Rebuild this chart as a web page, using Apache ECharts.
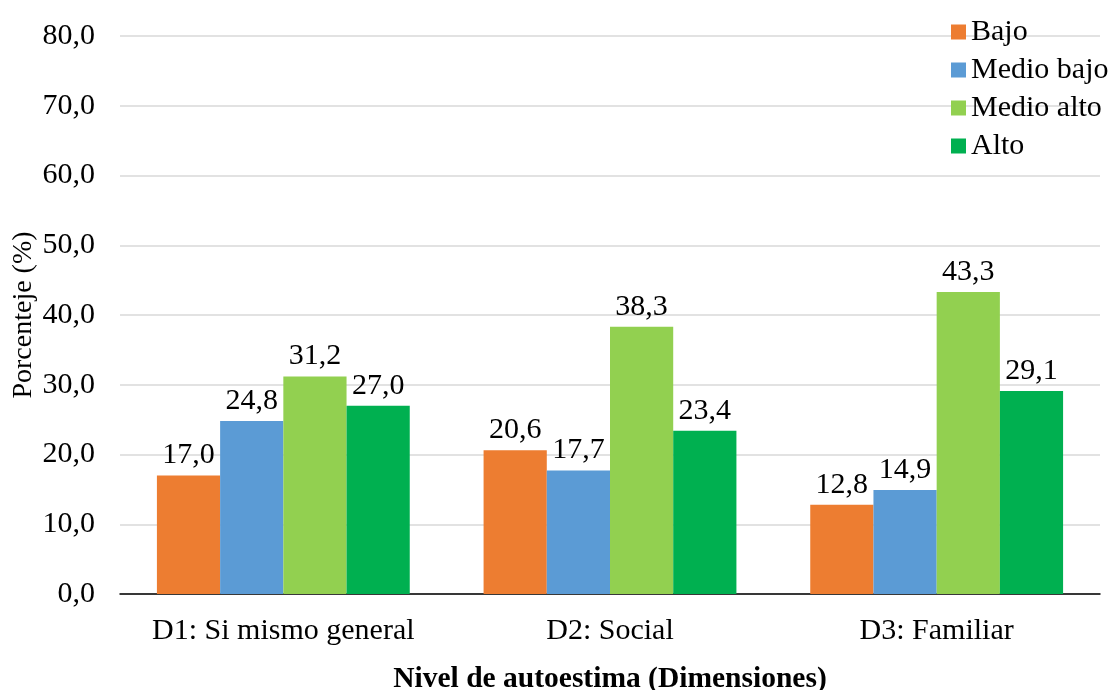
<!DOCTYPE html>
<html>
<head>
<meta charset="utf-8">
<script src="https://cdn.jsdelivr.net/npm/echarts@6/dist/echarts.min.js"></script>
<style>html,body{margin:0;padding:0;background:#fff;}#c{width:1111px;height:690px;}</style>
</head>
<body>
<div id="c"></div>
<script>
const categories = ['D1: Si mismo general', 'D2: Social', 'D3: Familiar'];
const seriesNames = ['Bajo', 'Medio bajo', 'Medio alto', 'Alto'];
const bajo = [17.0, 20.6, 12.8];
const medioBajo = [24.8, 17.7, 14.9];
const medioAlto = [31.2, 38.3, 43.3];
const alto = [27.0, 23.4, 29.1];
const colors = ['#ED7D31', '#5B9BD5', '#92D050', '#00B050'];
const values = [bajo, medioBajo, medioAlto, alto];
const fontFamily = '"Liberation Serif", "Times New Roman", serif';
const fmt = v => Number(v).toFixed(1).replace('.', ',');

const chart = echarts.init(document.getElementById('c'));
chart.setOption({
  animation: false,
  textStyle: { fontFamily: fontFamily },
  grid: { left: 120, right: 11, top: 36, bottom: 96, containLabel: false, outerBoundsMode: 'none' },
  legend: {
    orient: 'vertical',
    left: 946,
    top: 12,
    itemWidth: 15,
    itemHeight: 15,
    itemGap: 8,
    icon: 'rect',
    textStyle: { fontFamily: fontFamily, fontSize: 30, color: '#000', lineHeight: 30 },
    data: seriesNames
  },
  xAxis: {
    type: 'category',
    data: categories,
    axisLine: { lineStyle: { color: '#000', width: 1.5 } },
    axisTick: { show: false },
    axisLabel: { fontFamily: fontFamily, fontSize: 30, color: '#000', margin: 22, interval: 0 },
    name: 'Nivel de autoestima (Dimensiones)',
    nameLocation: 'middle',
    nameGap: 70,
    nameMoveOverlap: false,
    nameTextStyle: { fontFamily: fontFamily, fontSize: 29.5, fontWeight: 'bold', color: '#000' }
  },
  yAxis: {
    type: 'value',
    min: 0,
    max: 80,
    interval: 10,
    axisLine: { show: false },
    axisTick: { show: false },
    splitLine: { lineStyle: { color: '#d9d9d9', width: 1.5 } },
    axisLabel: { fontFamily: fontFamily, fontSize: 30, color: '#000', margin: 25, formatter: fmt },
    name: 'Porcenteje (%)',
    nameLocation: 'middle',
    nameGap: 82,
    nameMoveOverlap: false,
    nameTextStyle: { fontFamily: fontFamily, fontSize: 28, color: '#000' }
  },
  series: seriesNames.map((n, i) => ({
    name: n,
    type: 'bar',
    data: values[i],
    barGap: '0%',
    barCategoryGap: '22.6%',
    itemStyle: { color: colors[i] },
    label: {
      show: true,
      position: 'top',
      distance: 5,
      fontFamily: fontFamily,
      fontSize: 30,
      color: '#000',
      formatter: p => fmt(p.value)
    }
  }))
});
</script>
</body>
</html>
